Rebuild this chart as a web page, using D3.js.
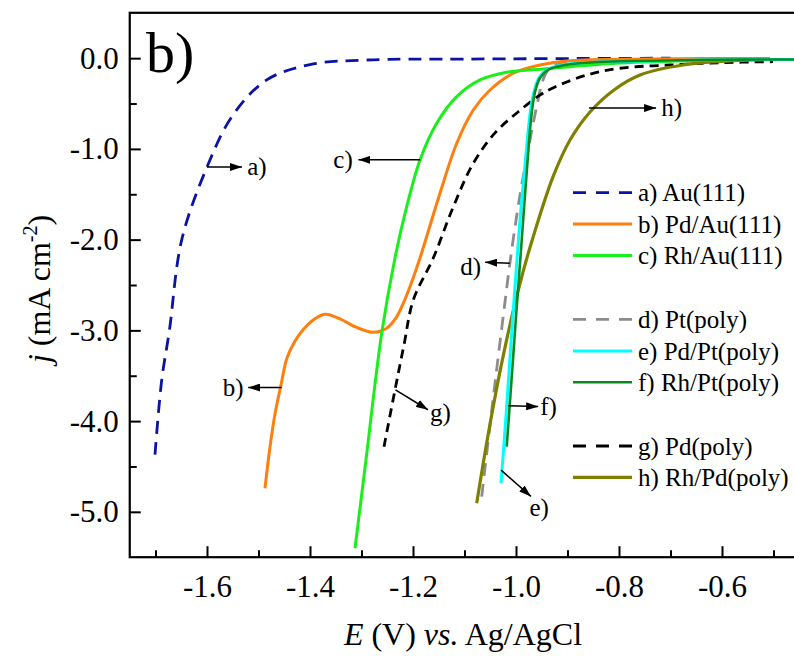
<!DOCTYPE html>
<html>
<head>
<meta charset="utf-8">
<script src="https://cdn.jsdelivr.net/npm/d3@7/dist/d3.min.js"></script>
<style>
  html, body { margin: 0; padding: 0; background: #fff; }
  svg text { font-family: "Liberation Serif", "Times New Roman", Times, "DejaVu Serif", serif !important; }
</style>
</head>
<body>
<svg id="chart" width="794" height="656"></svg>
<script>
// ---- data (E in V vs Ag/AgCl, j in mA cm^-2) ----
const seriesNames = ["a) Au(111)", "b) Pd/Au(111)", "c) Rh/Au(111)", "d) Pt(poly)", "e) Pd/Pt(poly)", "f) Rh/Pt(poly)", "g) Pd(poly)", "h) Rh/Pd(poly)"];

const curveA = [[-1.701,-4.37],[-1.688,-3.55],[-1.673,-3.0],[-1.649,-2.0],[-1.60,-1.2],[-1.55,-0.63],[-1.484,-0.24],[-1.40,-0.07],[-1.29,-0.02],[-1.10,-0.01],[-0.70,0.0]];
const curveB = [[-1.4874,-4.740],[-1.4777,-4.285],[-1.4680,-3.922],[-1.4563,-3.602],[-1.4447,-3.304],[-1.4291,-3.117],[-1.4130,-2.990],[-1.3936,-2.885],[-1.3709,-2.823],[-1.3417,-2.874],[-1.3093,-2.968],[-1.2771,-3.021],[-1.2511,-2.977],[-1.2330,-2.863],[-1.2188,-2.701],[-1.2039,-2.489],[-1.1864,-2.202],[-1.1476,-1.489],[-1.1151,-0.938],[-1.0829,-0.571],[-1.0505,-0.351],[-1.0052,-0.166],[-0.9534,-0.075],[-0.8951,-0.028],[-0.7398,-0.009],[-0.5068,-0.003]];
const curveC = [[-1.3126,-5.402],[-1.2913,-4.428],[-1.2608,-3.032],[-1.2350,-2.202],[-1.2122,-1.637],[-1.1864,-1.122],[-1.1540,-0.718],[-1.1151,-0.424],[-1.0699,-0.240],[-1.0181,-0.155],[-0.9534,-0.122],[-0.8951,-0.094],[-0.798,-0.053],[-0.6427,-0.025],[-0.46,-0.014]];
const curveD = [[-1.0666,-4.833],[-1.0447,-3.767],[-1.0252,-2.863],[-1.0097,-2.169],[-0.9922,-1.508],[-0.9728,-0.902],[-0.9592,-0.516],[-0.9476,-0.240],[-0.9340,-0.108],[-0.9049,-0.053],[-0.701,-0.03],[-0.50,-0.014]];
const curveE = [[-1.0291,-4.685],[-1.0194,-3.944],[-1.0107,-3.216],[-1.0010,-2.445],[-0.9922,-1.783],[-0.9816,-1.122],[-0.9718,-0.571],[-0.9641,-0.350],[-0.9544,-0.207],[-0.9388,-0.125],[-0.9049,-0.069],[-0.6427,-0.020],[-0.4602,-0.014]];
const curveF = [[-1.0180,-4.282],[-1.0087,-3.547],[-0.9990,-2.775],[-0.9903,-2.114],[-0.9796,-1.287],[-0.9699,-0.626],[-0.9631,-0.373],[-0.9534,-0.218],[-0.9379,-0.130],[-0.9049,-0.075],[-0.8369,-0.042],[-0.6427,-0.020],[-0.4602,-0.014]];
const curveG = [[-1.2563,-4.282],[-1.2350,-3.657],[-1.2175,-3.161],[-1.1994,-2.665],[-1.1606,-2.202],[-1.1217,-1.637],[-1.0829,-1.158],[-1.0408,-0.824],[-0.9961,-0.593],[-0.9534,-0.406],[-0.9243,-0.317],[-0.8621,-0.185],[-0.7981,-0.111],[-0.7010,-0.075],[-0.6039,-0.050],[-0.5010,-0.039]];
const curveH = [[-1.0763,-4.906],[-1.0549,-4.175],[-1.0293,-3.403],[-1.0082,-2.852],[-0.9868,-2.367],[-0.9685,-2.004],[-0.9282,-1.309],[-0.8951,-0.902],[-0.8563,-0.593],[-0.8097,-0.350],[-0.7592,-0.185],[-0.6757,-0.075],[-0.5786,-0.028],[-0.5068,-0.012]];

const xMajorTicks = [-1.6, -1.4, -1.2, -1.0, -0.8, -0.6];
const xMinorTicks = [-1.7, -1.5, -1.3, -1.1, -0.9, -0.7, -0.5];
const yMajorTicks = [0, -1, -2, -3, -4, -5];
const yMinorTicks = [-0.5, -1.5, -2.5, -3.5, -4.5];

// annotation labels (data coordinates)
const annotations = [
  {t:"a)", from:[-1.600,-1.20], to:[-1.532,-1.20], tx:[-1.522,-1.29], anchor:"start"},
  {t:"c)", from:[-1.186,-1.12], to:[-1.306,-1.12], tx:[-1.317,-1.21], anchor:"end"},
  {t:"b)", from:[-1.455,-3.630], to:[-1.520,-3.630], tx:[-1.529,-3.72], anchor:"end"},
  {t:"g)", from:[-1.234,-3.655], to:[-1.171,-3.875], tx:[-1.167,-4.00], anchor:"start"},
  {t:"d)", from:[-1.012,-2.26], to:[-1.060,-2.25], tx:[-1.068,-2.39], anchor:"end"},
  {t:"f)", from:[-1.015,-3.83], to:[-0.957,-3.84], tx:[-0.953,-3.93], anchor:"start"},
  {t:"e)", from:[-1.029,-4.54], to:[-0.971,-4.83], tx:[-0.974,-5.05], anchor:"start"},
  {t:"h)", from:[-0.858,-0.55], to:[-0.728,-0.55], tx:[-0.718,-0.64], anchor:"start"}
];

// ---- layout ----
const svg = d3.select("#chart");
const x = d3.scaleLinear().domain([-1.75, -0.45]).range([129.75, 799.25]);
const y = d3.scaleLinear().domain([-5.5, 0.5]).range([557.2, 12.8]);
const FONT = "'Liberation Serif', 'Times New Roman', Times, 'DejaVu Serif', serif";

const series = [
  {data: curveA, color: "#0a14a0", dash: "13,8", w: 2.8},
  {data: curveB, color: "#ff7f0e", dash: null, w: 3},
  {data: curveC, color: "#19f019", dash: null, w: 3},
  {data: curveD, color: "#8c8c8c", dash: "13,8", w: 2.8},
  {data: curveE, color: "#00ffff", dash: null, w: 3},
  {data: curveF, color: "#0a8a1e", dash: null, w: 2.6},
  {data: curveG, color: "#000000", dash: "9,6", w: 2.8},
  {data: curveH, color: "#808000", dash: null, w: 3.2}
];

const defs = svg.append("defs");
defs.append("clipPath").attr("id", "clip")
  .append("rect").attr("x", x.range()[0]).attr("y", y.range()[1])
  .attr("width", x.range()[1] - x.range()[0]).attr("height", y.range()[0] - y.range()[1]);

const marker = defs.append("marker")
  .attr("id", "arrow").attr("viewBox", "0 0 12 8").attr("refX", 12).attr("refY", 4)
  .attr("markerWidth", 12).attr("markerHeight", 8).attr("markerUnits", "userSpaceOnUse")
  .attr("orient", "auto");
marker.append("path").attr("d", "M0,0 L12,4 L0,8 Z").attr("fill", "#000");

const line = d3.line().x(d => x(d[0])).y(d => y(d[1])).curve(d3.curveCatmullRom.alpha(0.5));

const plot = svg.append("g").attr("clip-path", "url(#clip)");
[0, 3, 6, 1, 2, 7, 4, 5].forEach(i => {
  const s = series[i];
  plot.append("path").datum(s.data).attr("d", line)
    .attr("fill", "none").attr("stroke", s.color).attr("stroke-width", s.w)
    .attr("stroke-linejoin", "round")
    .attr("stroke-dasharray", s.dash);
});

// ---- axes ----
function styleTicks(g) {
  g.attr("font-family", FONT);
  g.select(".domain").remove();
  g.selectAll(".tick line").attr("stroke", "#000").attr("stroke-width", 2);
}
const gx = svg.append("g").attr("transform", `translate(0,${y.range()[0]})`)
  .call(d3.axisBottom(x).tickValues(xMajorTicks).tickSizeInner(-11).tickSizeOuter(0).tickPadding(18)
    .tickFormat(v => v.toFixed(1)));
styleTicks(gx);
gx.selectAll(".tick text").attr("font-size", 31).attr("fill", "#000").attr("dy", "0.71em");
const gxm = svg.append("g").attr("transform", `translate(0,${y.range()[0]})`)
  .call(d3.axisBottom(x).tickValues(xMinorTicks).tickSizeInner(-7).tickSizeOuter(0).tickFormat(""));
styleTicks(gxm);

const gy = svg.append("g").attr("transform", `translate(${x.range()[0]},0)`)
  .call(d3.axisLeft(y).tickValues(yMajorTicks).tickSizeInner(-11).tickSizeOuter(0).tickPadding(10)
    .tickFormat(v => v.toFixed(1)));
styleTicks(gy);
gy.selectAll(".tick text").attr("font-size", 31).attr("fill", "#000").attr("x", -11);
const gym = svg.append("g").attr("transform", `translate(${x.range()[0]},0)`)
  .call(d3.axisLeft(y).tickValues(yMinorTicks).tickSizeInner(-7).tickSizeOuter(0).tickFormat(""));
styleTicks(gym);

// frame
svg.append("rect").attr("x", x.range()[0]).attr("y", y.range()[1])
  .attr("width", x.range()[1] - x.range()[0]).attr("height", y.range()[0] - y.range()[1])
  .attr("fill", "none").attr("stroke", "#000").attr("stroke-width", 2.2);

// ---- axis titles ----
const xt = svg.append("text").attr("x", 463).attr("y", 645).attr("text-anchor", "middle")
  .attr("font-family", FONT).attr("font-size", 32).attr("fill", "#000");
xt.append("tspan").attr("font-style", "italic").text("E");
xt.append("tspan").text(" (V) ");
xt.append("tspan").attr("font-style", "italic").text("vs.");
xt.append("tspan").text(" Ag/AgCl");

const yt = svg.append("text").attr("transform", "translate(50,289) rotate(-90)")
  .attr("text-anchor", "middle").attr("font-family", FONT).attr("font-size", 32).attr("fill", "#000");
yt.append("tspan").attr("font-style", "italic").text("j");
yt.append("tspan").text(" (mA cm");
yt.append("tspan").attr("font-size", 20).attr("dy", -13).text("-2");
yt.append("tspan").attr("dy", 13).text(")");

// panel label
svg.append("text").attr("x", 146).attr("y", 72).attr("font-family", FONT)
  .attr("font-size", 58).attr("fill", "#000").text("b)");

// ---- annotations ----
annotations.forEach(a => {
  svg.append("line")
    .attr("x1", x(a.from[0])).attr("y1", y(a.from[1]))
    .attr("x2", x(a.to[0])).attr("y2", y(a.to[1]))
    .attr("stroke", "#000").attr("stroke-width", 1.5).attr("marker-end", "url(#arrow)");
  svg.append("text").attr("x", x(a.tx[0])).attr("y", y(a.tx[1]))
    .attr("text-anchor", a.anchor).attr("font-family", FONT)
    .attr("font-size", 25).attr("fill", "#000").text(a.t);
});

// ---- legend ----
const legendRowsY = [192.7, 224, 255.5, 319.3, 351, 382.3, 446, 477.3];
const leg = svg.append("g");
series.forEach((s, i) => {
  const ly = legendRowsY[i];
  leg.append("line").attr("x1", 573).attr("x2", 632).attr("y1", ly).attr("y2", ly)
    .attr("stroke", s.color).attr("stroke-width", s.w)
    .attr("stroke-dasharray", s.dash ? "13,10" : null);
  leg.append("text").attr("x", 638).attr("y", ly + 8.5).attr("font-family", FONT)
    .attr("font-size", 25).attr("fill", "#000").text(seriesNames[i]);
});
</script>
</body>
</html>
